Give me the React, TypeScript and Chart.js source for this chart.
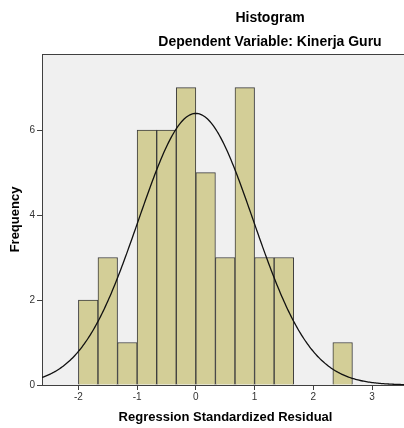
import React, { useEffect, useRef } from "react";
import { Chart, registerables } from "chart.js";

Chart.register(...registerables);

// ---- data ----
const binCenters = [-1.8333, -1.5, -1.1667, -0.8333, -0.5, -0.1667, 0.1667, 0.5, 0.8333, 1.1667, 1.5, 1.8333, 2.1667, 2.5];
const frequencies = [2, 3, 1, 6, 6, 7, 5, 3, 7, 3, 3, 0, 0, 1];
const xTicks = [-2, -1, 0, 1, 2, 3];
const yTicks = [0, 2, 4, 6];
const residualMean = 0;
const residualStdDev = 0.978;
const sampleSize = 47;
const binWidth = 1 / 3;
const xMin = -2.62;
const xMax = 3.63;
const yMax = 7.79;

const titleText = "Histogram";
const subtitleText = "Dependent Variable: Kinerja Guru";
const xTitle = "Regression Standardized Residual";
const yTitle = "Frequency";

const FONT = "Arial, 'Liberation Sans', sans-serif";
const AXIS = "#404040";

function normalCurve() {
  const pts: { x: number; y: number }[] = [];
  const k = (sampleSize * binWidth) / (residualStdDev * Math.sqrt(2 * Math.PI));
  for (let x = xMin; x <= xMax + 1e-9; x += 0.02) {
    const z = (x - residualMean) / residualStdDev;
    pts.push({ x, y: k * Math.exp(-0.5 * z * z) });
  }
  return pts;
}

const backgroundPlugin = {
  id: "plotBackground",
  beforeDraw(chart: any) {
    const { ctx, chartArea, width, height } = chart;
    ctx.save();
    ctx.fillStyle = "#ffffff";
    ctx.fillRect(0, 0, width, height);
    ctx.fillStyle = "#F0F0F0";
    ctx.fillRect(chartArea.left, chartArea.top, chartArea.right - chartArea.left, chartArea.bottom - chartArea.top);
    ctx.restore();
  },
  afterDraw(chart: any) {
    const { ctx, chartArea } = chart;
    ctx.save();
    ctx.strokeStyle = AXIS;
    ctx.lineWidth = 1;
    ctx.beginPath();
    ctx.moveTo(chartArea.left, chartArea.top + 0.5);
    ctx.lineTo(chartArea.right, chartArea.top + 0.5);
    ctx.moveTo(chartArea.right - 0.5, chartArea.top);
    ctx.lineTo(chartArea.right - 0.5, chartArea.bottom);
    ctx.stroke();
    ctx.fillStyle = "#000000";
    ctx.textAlign = "center";
    ctx.textBaseline = "alphabetic";
    ctx.font = `bold 14px ${FONT}`;
    ctx.fillText(titleText, 270, 22);
    ctx.fillText(subtitleText, 270, 46);
    ctx.restore();
  },
};

export default function App() {
  const ref = useRef<HTMLCanvasElement | null>(null);

  useEffect(() => {
    if (!ref.current) return;
    const chart = new Chart(ref.current, {
      type: "bar",
      data: {
        datasets: [
          {
            type: "line",
            data: normalCurve(),
            borderColor: "#111111",
            borderWidth: 1.3,
            pointRadius: 0,
            tension: 0,
            fill: false,
            order: 0,
          } as any,
          {
            type: "bar",
            data: binCenters.map((x, i) => ({ x, y: frequencies[i] })),
            backgroundColor: "rgb(211,206,151)",
            borderColor: "#3c3c3c",
            borderWidth: 1,
            barPercentage: 1,
            categoryPercentage: 1,
            order: 1,
          } as any,
        ],
      },
      options: {
        animation: false,
        responsive: false,
        devicePixelRatio: 1,
        layout: { padding: { top: 54, right: 131, left: 0, bottom: 0 } },
        plugins: {
          legend: { display: false },
          tooltip: { enabled: false },
          title: { display: false },
        },
        scales: {
          x: {
            type: "linear",
            min: xMin,
            max: xMax,
            offset: false,
            afterFit: (s: any) => {
              s.height = 43;
            },
            afterBuildTicks: (s: any) => {
              s.ticks = xTicks.map((v) => ({ value: v }));
            },
            grid: {
              display: true,
              drawOnChartArea: false,
              drawTicks: true,
              tickLength: 5,
              tickColor: AXIS,
              offset: false,
            },
            border: { display: true, color: AXIS, width: 1 },
            ticks: {
              font: { family: FONT, size: 10 },
              color: "#333333",
              padding: 1,
              maxRotation: 0,
              autoSkip: false,
            },
            title: {
              display: true,
              text: xTitle,
              color: "#000000",
              font: { family: FONT, size: 13, weight: "bold" },
              padding: { top: 0, bottom: 3 },
            },
          },
          y: {
            type: "linear",
            min: 0,
            max: yMax,
            afterFit: (s: any) => {
              s.width = 42;
            },
            afterBuildTicks: (s: any) => {
              s.ticks = yTicks.map((v) => ({ value: v }));
            },
            grid: {
              display: true,
              drawOnChartArea: false,
              drawTicks: true,
              tickLength: 5,
              tickColor: AXIS,
            },
            border: { display: true, color: AXIS, width: 1 },
            ticks: {
              font: { family: FONT, size: 10 },
              color: "#333333",
              padding: 2,
              autoSkip: false,
            },
            title: {
              display: true,
              text: yTitle,
              color: "#000000",
              font: { family: FONT, size: 13, weight: "bold" },
              padding: { top: 8, bottom: 0 },
            },
          },
        },
      } as any,
      plugins: [backgroundPlugin],
    });
    return () => chart.destroy();
  }, []);

  return (
    <div
      style={{
        position: "absolute",
        left: 0,
        top: 0,
        width: 404,
        height: 428,
        overflow: "hidden",
        background: "#ffffff",
      }}
    >
      <canvas ref={ref} width={540} height={428} style={{ display: "block", width: 540, height: 428 }} />
    </div>
  );
}
